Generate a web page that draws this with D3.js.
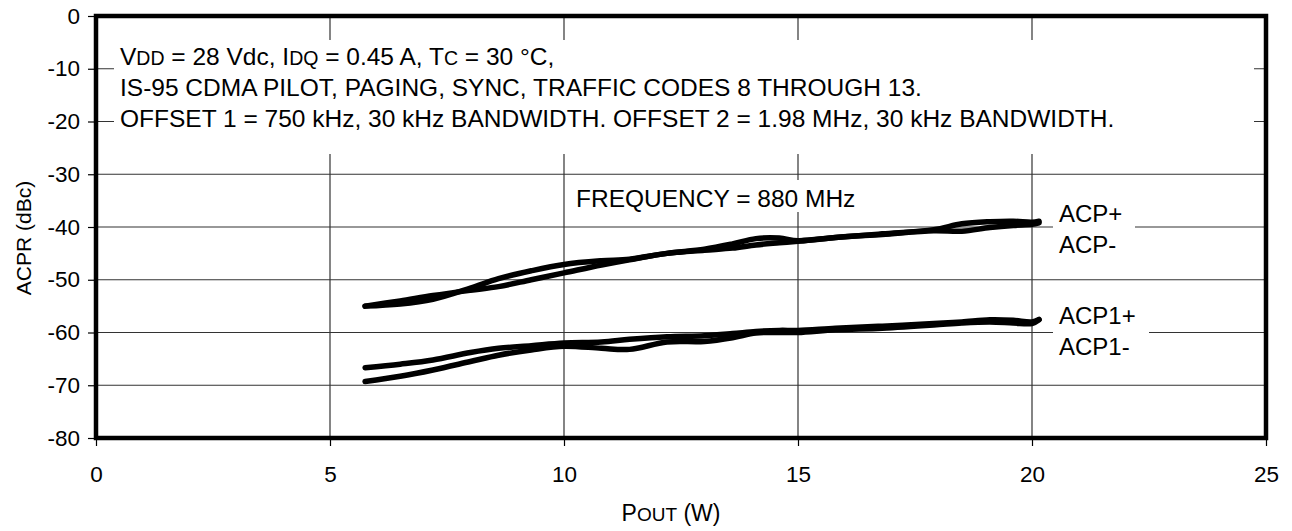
<!DOCTYPE html>
<html lang="en">
<head>
    <meta charset="UTF-8">
    <title>ACPR vs Pout</title>
    <script src="https://d3js.org/d3.v7.min.js"></script>
    <style>
        body { margin: 0; background: #fff; }
        svg { display: block; font-family: "Liberation Sans", Arial, Helvetica, sans-serif; }
    </style>
</head>
<body>
<script>
    // values
    var pout      = [5.75, 6.5, 7.2, 8.0, 8.6, 9.3, 10.0, 10.8, 11.4, 12.2, 13.0, 13.6, 14.1, 14.6, 15.0, 15.8, 16.8, 17.9, 18.5, 19.1, 19.6, 20.0, 20.15]
    var acpPlus   = [-55.0, -54.6, -53.7, -51.6, -49.8, -48.3, -47.1, -46.4, -46.1, -45.0, -44.2, -43.2, -42.2, -42.1, -42.6, -42.0, -41.3, -40.5, -39.4, -39.0, -38.9, -39.1, -38.9]
    var acpMinus  = [-55.0, -54.0, -53.0, -52.0, -51.3, -50.0, -48.7, -47.2, -46.2, -45.0, -44.4, -44.0, -43.4, -43.0, -42.7, -42.0, -41.4, -40.7, -40.8, -40.1, -39.7, -39.5, -39.2]
    var acp1Plus  = [-66.7, -66.0, -65.2, -63.8, -63.0, -62.5, -62.0, -61.8, -61.3, -60.8, -60.6, -60.2, -59.8, -59.6, -59.6, -59.2, -58.8, -58.3, -58.0, -57.6, -57.7, -58.0, -57.5]
    var acp1Minus = [-69.3, -68.3, -67.1, -65.5, -64.3, -63.3, -62.6, -63.0, -63.2, -61.8, -61.7, -61.0, -60.1, -60.0, -60.0, -59.5, -59.2, -58.6, -58.2, -58.0, -58.2, -58.3, -57.6]

    var xTicks = [0, 5, 10, 15, 20, 25]
    var yTicks = [0, -10, -20, -30, -40, -50, -60, -70, -80]

    // [text, smallcaps?]
    var noteLines = [
        [['V', 0], ['DD', 1], [' = 28 Vdc, I', 0], ['DQ', 1], [' = 0.45 A, T', 0], ['C', 1], [' = 30 °C,', 0]],
        [['IS-95 CDMA PILOT, PAGING, SYNC, TRAFFIC CODES 8 THROUGH 13.', 0]],
        [['OFFSET 1 = 750 kHz, 30 kHz BANDWIDTH. OFFSET 2 = 1.98 MHz, 30 kHz BANDWIDTH.', 0]]
    ]
    var freqLabel = 'FREQUENCY = 880 MHz'
    var upperLabels = ['ACP+', 'ACP-']
    var lowerLabels = ['ACP1+', 'ACP1-']

    var w = 1292, h = 531
    var pLeft = 96, pRight = 1266, pTop = 16, pBottom = 438

    var svg = d3.select('body').append('svg')
                .attr('width', w)
                .attr('height', h)

    var xScale = d3.scaleLinear().domain([0, 25]).range([pLeft, pRight])
    var yScale = d3.scaleLinear().domain([-80, 0]).range([pBottom, pTop])

    // grid
    svg.append('g').selectAll('line')
        .data(xTicks.slice(1, -1))
        .enter().append('line')
        .attr('x1', d => xScale(d)).attr('x2', d => xScale(d))
        .attr('y1', pTop).attr('y2', pBottom)
        .attr('stroke', '#333').attr('stroke-width', 1.2)

    svg.append('g').selectAll('line')
        .data(yTicks.slice(1, -1))
        .enter().append('line')
        .attr('x1', pLeft).attr('x2', pRight)
        .attr('y1', d => yScale(d)).attr('y2', d => yScale(d))
        .attr('stroke', '#333').attr('stroke-width', 1.2)

    // axes
    var yAxis = d3.axisLeft(yScale).tickValues(yTicks).tickSize(8).tickPadding(8)
    var xAxis = d3.axisBottom(xScale).tickValues(xTicks).tickSize(8).tickPadding(20)

    var gy = svg.append('g').attr('transform', 'translate(' + pLeft + ',0)').call(yAxis)
    var gx = svg.append('g').attr('transform', 'translate(0,' + pBottom + ')').call(xAxis)
    ;[gx, gy].forEach(g => {
        g.select('.domain').remove()
        g.selectAll('line').attr('stroke', '#000').attr('stroke-width', 1.2)
        g.selectAll('text').attr('font-size', 22.5).attr('fill', '#000')
    })
    gy.selectAll('text').text(d => d === 0 ? '0' : '-' + Math.abs(d))

    // white boxes that hide the grid behind the notes
    svg.append('rect').attr('x', 114).attr('y', 40).attr('width', 1140).attr('height', 114).attr('fill', '#fff')
    svg.append('rect').attr('x', 570).attr('y', 180).attr('width', 292).attr('height', 32).attr('fill', '#fff')
    svg.append('rect').attr('x', 1053).attr('y', 196).attr('width', 82).attr('height', 66).attr('fill', '#fff')
    svg.append('rect').attr('x', 1053).attr('y', 296).attr('width', 96).attr('height', 70).attr('fill', '#fff')

    // curves
    var line = d3.line()
                .x((d, i) => xScale(pout[i]))
                .y(d => yScale(d))
                .curve(d3.curveCatmullRom.alpha(0.5))

    svg.append('g').selectAll('path')
        .data([acpPlus, acpMinus, acp1Plus, acp1Minus])
        .enter().append('path')
        .attr('d', line)
        .attr('fill', 'none')
        .attr('stroke', '#000')
        .attr('stroke-width', 5.5)
        .attr('stroke-linecap', 'round')
        .attr('stroke-linejoin', 'round')

    // frame
    svg.append('rect')
        .attr('x', pLeft).attr('y', pTop)
        .attr('width', pRight - pLeft).attr('height', pBottom - pTop)
        .attr('fill', 'none').attr('stroke', '#000').attr('stroke-width', 4.5)

    // notes
    var note = svg.append('text').attr('font-size', 24.5).attr('fill', '#000')
    noteLines.forEach((parts, i) => {
        var t = note.append('tspan').attr('x', 120).attr('y', 65 + i * 31)
        parts.forEach(p => {
            t.append('tspan').attr('font-size', p[1] ? 19.5 : 24.5).text(p[0])
        })
    })

    svg.append('text').attr('x', 576).attr('y', 207).attr('font-size', 24.5).text(freqLabel)

    svg.append('g').selectAll('text')
        .data(upperLabels.concat(lowerLabels))
        .enter().append('text')
        .attr('x', 1059)
        .attr('y', (d, i) => [222, 253, 324, 355][i])
        .attr('font-size', 24)
        .text(d => d)

    // axis titles
    svg.append('text')
        .attr('transform', 'translate(31,238) rotate(-90)')
        .attr('text-anchor', 'middle')
        .attr('font-size', 21)
        .text('ACPR (dBc)')

    var xt = svg.append('text')
        .attr('x', 671).attr('y', 521)
        .attr('text-anchor', 'middle')
        .attr('font-size', 23)
    xt.append('tspan').text('P')
    xt.append('tspan').attr('font-size', 19).text('OUT')
    xt.append('tspan').text(' (W)')
</script>
</body>
</html>
